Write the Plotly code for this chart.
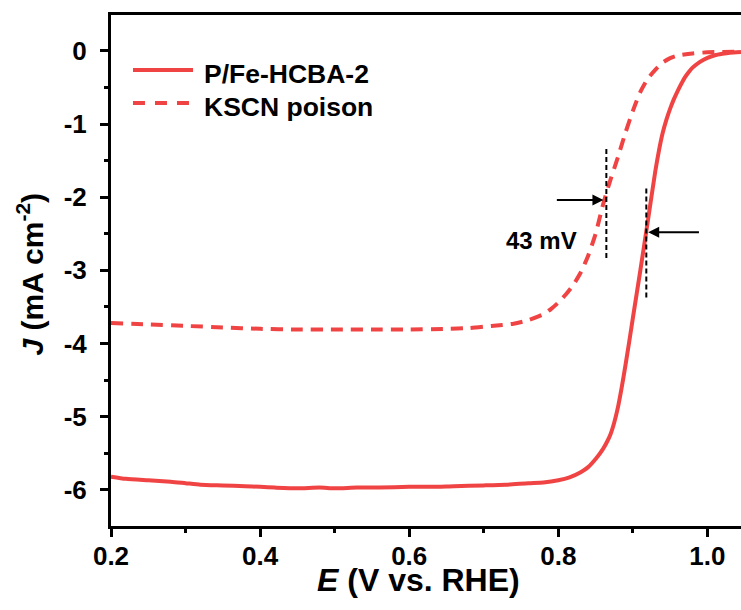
import plotly.graph_objects as go

# ---------------- data ----------------
series_names = ["P/Fe-HCBA-2", "KSCN poison"]

E_solid = [0.200, 0.22, 0.25, 0.28, 0.30, 0.32, 0.35, 0.38, 0.40, 0.42, 0.45, 0.48,
           0.50, 0.53, 0.56, 0.60, 0.63, 0.66, 0.70, 0.73, 0.76, 0.78, 0.80, 0.815,
           0.83, 0.84, 0.85, 0.86, 0.865, 0.87, 0.875, 0.88, 0.885, 0.89, 0.895, 0.90,
           0.91, 0.92, 0.93, 0.935, 0.94, 0.945, 0.95, 0.955, 0.96, 0.965, 0.97, 0.975,
           0.98, 0.99, 1.00, 1.01, 1.02, 1.03, 1.045]
J_solid = [-5.82, -5.85, -5.87, -5.89, -5.91, -5.93, -5.94, -5.95, -5.96, -5.97, -5.98, -5.97,
           -5.98, -5.97, -5.97, -5.96, -5.96, -5.95, -5.94, -5.93, -5.91, -5.90, -5.87, -5.83,
           -5.76, -5.69, -5.58, -5.44, -5.35, -5.24, -5.08, -4.87, -4.60, -4.30, -3.98, -3.65,
           -3.00, -2.33, -1.65, -1.36, -1.12, -0.94, -0.79, -0.66, -0.55, -0.45, -0.36, -0.29,
           -0.23, -0.15, -0.095, -0.06, -0.04, -0.025, -0.015]

E_dash = [0.20, 0.25, 0.30, 0.35, 0.40, 0.45, 0.50, 0.55, 0.60, 0.65, 0.68, 0.71, 0.74,
          0.76, 0.78, 0.79, 0.80, 0.81, 0.82, 0.83, 0.84, 0.85, 0.86, 0.87, 0.88, 0.89,
          0.90, 0.91, 0.92, 0.93, 0.94, 0.95, 0.96, 0.98, 1.00, 1.02, 1.045]
J_dash = [-3.72, -3.74, -3.76, -3.78, -3.80, -3.81, -3.81, -3.81, -3.81, -3.80, -3.79, -3.76, -3.73,
          -3.68, -3.60, -3.53, -3.44, -3.33, -3.20, -3.03, -2.80, -2.50, -2.10, -1.76, -1.45, -1.12,
          -0.82, -0.56, -0.38, -0.26, -0.16, -0.10, -0.065, -0.035, -0.02, -0.015, -0.01]

# guide lines / arrows for the 43 mV shift
guide_E = [0.8644, 0.918]
guide_J_top = [-1.34, -1.88]
guide_J_bot = [-2.86, -3.41]
arrow_tip_E = [0.8605, 0.9205]
arrow_tail_E = [0.796, 0.9906]
arrow_J = [-2.04, -2.48]
shift_label = "43 mV"
shift_label_pos = (0.777, -2.59)

x_ticks = [0.2, 0.4, 0.6, 0.8, 1.0]
y_ticks = [0, -1, -2, -3, -4, -5, -6]
y_ticktext = ["0", "-1", "-2", "-3", "-4", "-5", "-6"]

RED = "#F04444"
FONT = "Liberation Sans, Arial, sans-serif"

fig = go.Figure()
fig.add_trace(go.Scatter(x=E_solid, y=J_solid, mode="lines", name=series_names[0],
                         line=dict(color=RED, width=4, shape="spline", smoothing=0.6),
                         showlegend=False))
fig.add_trace(go.Scatter(x=E_dash, y=J_dash, mode="lines", name=series_names[1],
                         line=dict(color=RED, width=4, dash="12px,8px", shape="spline", smoothing=0.6),
                         showlegend=False))

for e, jt, jb in zip(guide_E, guide_J_top, guide_J_bot):
    fig.add_trace(go.Scatter(x=[e, e], y=[jt, jb], mode="lines", showlegend=False,
                             line=dict(color="black", width=2, dash="5px,3px"), hoverinfo="skip"))

for tip, tail, j in zip(arrow_tip_E, arrow_tail_E, arrow_J):
    fig.add_annotation(x=tip, y=j, ax=tail, ay=j, xref="x", yref="y", axref="x", ayref="y",
                       text="", showarrow=True, arrowhead=2, arrowsize=1.1, arrowwidth=2,
                       arrowcolor="black")

fig.add_annotation(x=shift_label_pos[0], y=shift_label_pos[1], xref="x", yref="y",
                   text="<b>%s</b>" % shift_label, showarrow=False,
                   font=dict(family=FONT, size=24, color="black"))

# manual legend (long line samples as in the reference)
leg_x0, leg_x1, leg_tx = 0.0349, 0.1302, 0.1444
leg_y = [0.8924, 0.8278]
leg_ty = [0.8845, 0.819]
dashes = ["solid", "12px,10px"]
for i, name in enumerate(series_names):
    fig.add_shape(type="line", xref="paper", yref="paper", x0=leg_x0, x1=leg_x1,
                  y0=leg_y[i], y1=leg_y[i], line=dict(color=RED, width=4, dash=dashes[i]))
    fig.add_annotation(x=leg_tx, y=leg_ty[i], xref="paper", yref="paper", xanchor="left",
                       yanchor="middle", text="<b>%s</b>" % name, showarrow=False,
                       font=dict(family=FONT, size=26.5, color="black"))

# axis titles
fig.add_annotation(x=0.488, y=-0.106, xref="paper", yref="paper", showarrow=False,
                   text="<b><i>E</i> (V vs. RHE)</b>", font=dict(family=FONT, size=32, color="black"),
                   xanchor="center", yanchor="middle")
fig.add_annotation(x=-0.1286, y=0.494, xref="paper", yref="paper", showarrow=False, textangle=-90,
                   text="<b><i>J</i> (mA cm<sup>-2</sup>)</b>", font=dict(family=FONT, size=30, color="black"),
                   xanchor="center", yanchor="middle")

fig.update_xaxes(range=[0.2, 1.045], tickvals=x_ticks, tickformat=".1f",
                 showline=True, linewidth=3, linecolor="black", mirror=True,
                 ticks="outside", ticklen=8, tickwidth=2.5, tickcolor="black",
                 minor=dict(tickmode="linear", tick0=0.2, dtick=0.1, ticks="outside",
                            ticklen=4, tickwidth=2.5, tickcolor="black"),
                 tickfont=dict(family=FONT, size=26, color="black", weight="bold"),
                 showgrid=False, zeroline=False, ticklabelstandoff=-3)
fig.update_yaxes(range=[-6.495, 0.49], tickvals=y_ticks, ticktext=y_ticktext,
                 showline=True, linewidth=3, linecolor="black",
                 ticks="outside", ticklen=8, tickwidth=2.5, tickcolor="black",
                 minor=dict(tickmode="linear", tick0=0, dtick=0.5, ticks="outside",
                            ticklen=4, tickwidth=2.5, tickcolor="black"),
                 tickfont=dict(family=FONT, size=26, color="black", weight="bold"),
                 showgrid=False, zeroline=False, ticklabelstandoff=8)

fig.update_layout(width=741, height=610, margin=dict(l=111, r=0, t=15, b=84),
                  plot_bgcolor="white", paper_bgcolor="white", showlegend=False)

fig.write_html("out.html")
